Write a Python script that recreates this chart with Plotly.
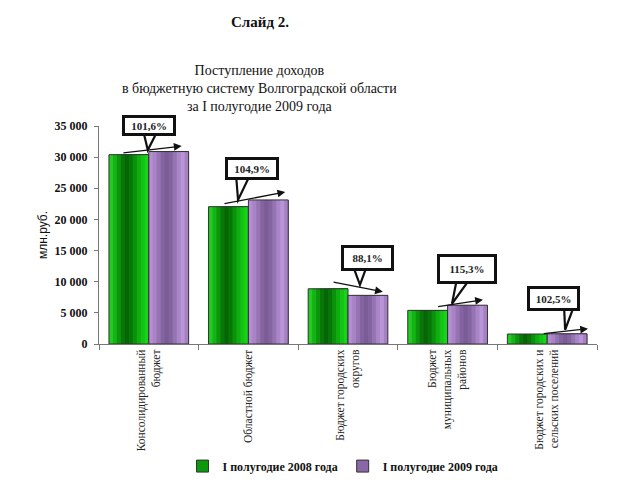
import plotly.graph_objects as go

# ---------------- data ----------------
categories = [
    "Консолидированный<br>бюджет",
    "Областной бюджет",
    "Бюджет городских<br>округов",
    "Бюджет<br>муниципальных<br>районов",
    "Бюджет городских и<br>сельских поселений",
]
h1_2008 = [30400, 22050, 8860, 5400, 1600]
h1_2009 = [30900, 23130, 7810, 6230, 1640]
growth_labels = ["101,6%", "104,9%", "88,1%", "115,3%", "102,5%"]
series_names = ["I полугодие 2008 года", "I полугодие 2009 года"]
y_tick_vals = [0, 5000, 10000, 15000, 20000, 25000, 30000, 35000]
y_tick_text = ["0", "5 000", "10 000", "15 000", "20 000", "25 000", "30 000", "35 000"]

# ---------------- styling ----------------
green_strips = ["#22cc22", "#16b316", "#0d940d", "#087608", "#066606", "#077807",
                "#0b920b", "#10ad10", "#14c414", "#18d418"]
purple_strips = ["#b68cd2", "#a883c5", "#9673b2", "#8464a0", "#7b5c97", "#8363a0",
                 "#9574b2", "#a986c8", "#b994d8", "#a581c2"]
BAR_W = 0.4
SERIF = "Liberation Serif, Times New Roman, serif"
Y_MAX = 35000

xs = list(range(len(categories)))
fig = go.Figure()


def add_gradient_bar(values, strips, base_offset, name, legend_color):
    n = len(strips)
    w = BAR_W / n
    for k, c in enumerate(strips):
        # each strip runs to the bar's right edge; later strips overlay -> no seams
        fig.add_trace(go.Bar(
            x=xs, y=values, width=BAR_W - k * w, offset=base_offset + k * w,
            marker=dict(color=c, line=dict(width=0)),
            showlegend=False, hoverinfo="skip"))
    fig.add_trace(go.Bar(
        x=xs, y=values, width=BAR_W, offset=base_offset,
        marker=dict(color="rgba(0,0,0,0)", line=dict(width=1, color="#333333")),
        showlegend=False, name=name))
    fig.add_trace(go.Bar(
        x=[None], y=[None], name=name,
        marker=dict(color=legend_color, line=dict(width=1, color="#333333"))))


add_gradient_bar(h1_2008, green_strips, -BAR_W, series_names[0], "#0c9a0c")
add_gradient_bar(h1_2009, purple_strips, 0.0, series_names[1], "#8a68a6")

# ---------------- callouts (positions in data units) ----------------
arrow_start_dx = [-0.27, -0.255, -0.16, -0.11, -0.05]
arrow_start_dy = [260, 430, 1120, 580, 50]
arrow_end_dx = [0.33, 0.37, 0.35, 0.355, 0.41]
arrow_end_dy = [880, 1270, 570, 870, 810]
box_x = [0.00, 1.036, 2.196, 3.195, 4.06]
box_y = [35150, 28170, 13830, 12070, 7340]
box_w = [44, 44, 43, 50, 43]
box_h = [11, 13, 16, 20, 15]
tri_base = [(-0.058, 0.092, 34340), (0.876, 1.016, 27130), (2.05, 2.19, 12550),
            (3.094, 3.224, 10470), (4.169, 4.27, 6140)]
tri_tip = [(-0.01, 31140), (0.896, 23125), (2.12, 9500), (3.044, 6460), (4.18, 2290)]

shapes = []
annotations = []
for i in range(len(categories)):
    annotations.append(dict(
        x=i + arrow_end_dx[i], y=h1_2009[i] + arrow_end_dy[i],
        ax=i + arrow_start_dx[i], ay=h1_2008[i] + arrow_start_dy[i],
        xref="x", yref="y", axref="x", ayref="y",
        showarrow=True, arrowhead=2, arrowsize=1.2, arrowwidth=1.3,
        arrowcolor="#111111", text=""))
    bx0, bx1, by = tri_base[i]
    tx, ty = tri_tip[i]
    shapes.append(dict(
        type="path", xref="x", yref="y", layer="above",
        path=f"M {bx0} {by} L {tx} {ty} L {bx1} {by} Z",
        fillcolor="white", line=dict(color="#111111", width=2.2)))
    annotations.append(dict(
        x=box_x[i], y=box_y[i] / Y_MAX, xref="x", yref="paper", showarrow=False,
        xanchor="center", yanchor="middle",
        text=f"<b>{growth_labels[i]}</b>", width=box_w[i], height=box_h[i],
        font=dict(family=SERIF, size=11, color="#222222"),
        bgcolor="white", bordercolor="#111111", borderwidth=3, borderpad=2))

# titles
annotations.append(dict(
    x=0.323, y=1.477, xref="paper", yref="paper", showarrow=False,
    xanchor="center", yanchor="middle",
    text="<b>Слайд 2.</b>", font=dict(family=SERIF, size=15, color="#111111")))
annotations.append(dict(
    x=0.323, y=1.174, xref="paper", yref="paper", showarrow=False,
    xanchor="center", yanchor="middle",
    text="Поступление доходов<br>в бюджетную систему Волгоградской области<br>за I полугодие 2009 года",
    font=dict(family=SERIF, size=14, color="#111111")))

fig.update_layout(
    width=640, height=480,
    margin=dict(l=99, r=43, t=126, b=136, autoexpand=False),
    paper_bgcolor="white", plot_bgcolor="white",
    barmode="overlay",
    shapes=shapes, annotations=annotations,
    legend=dict(orientation="h", x=0.49, xanchor="center", y=-0.56, yanchor="middle",
                font=dict(family=SERIF, size=12, color="#111111", weight="bold"),
                itemwidth=30, tracegroupgap=0),
    showlegend=True,
)
fig.update_xaxes(
    range=[-0.5, 4.5], tickmode="array", tickvals=xs, ticktext=categories,
    tickangle=-90, ticks="", showgrid=False, zeroline=False, automargin=False,
    showline=True, linecolor="#777777", linewidth=1,
    tickfont=dict(family=SERIF, size=11.5, color="#222222"),
    minor=dict(tickmode="array", tickvals=[-0.5, 0.5, 1.5, 2.5, 3.5, 4.5],
               ticks="outside", ticklen=5, tickcolor="#777777", showgrid=False),
)
fig.update_yaxes(
    range=[0, Y_MAX], tickmode="array", tickvals=y_tick_vals, ticktext=y_tick_text,
    ticks="outside", ticklen=4, tickcolor="#777777", showgrid=False, zeroline=False,
    showline=True, linecolor="#777777", linewidth=1, automargin=False,
    ticklabelstandoff=4,
    tickfont=dict(family=SERIF, size=12, color="#111111", weight="bold"),
    title=dict(text="млн.руб.", font=dict(family="Liberation Sans, Arial, sans-serif", size=12, color="#111111"),
               standoff=4),
)

fig.write_html("out.html")
